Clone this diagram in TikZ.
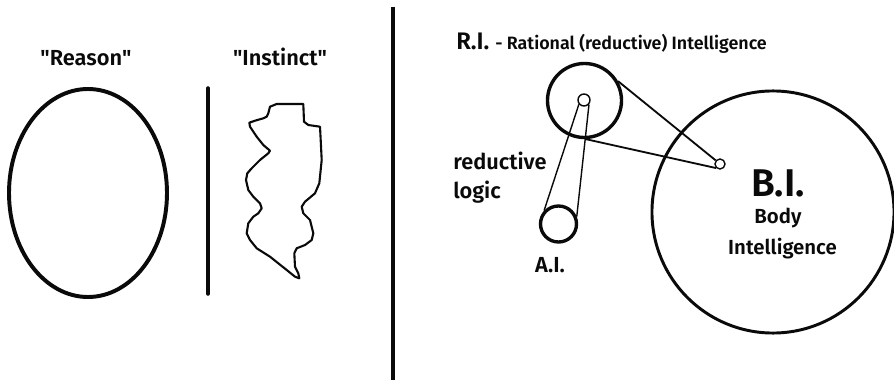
\documentclass[tikz,border=0pt]{standalone}
\usepackage{fontspec}
\setmainfont{Fira Sans}[BoldFont={Fira Sans SemiBold}]
\usepackage{xcolor}
\usepackage{tikz}
\usetikzlibrary{calc,positioning}
\definecolor{inkc}{HTML}{0A0A0A}
\tikzset{
  hv/.style={inkc,line width=2.8pt,line cap=round},
  thn/.style={inkc,line width=1pt},
  md/.style={inkc,line width=1.3pt},
  rnd/.style={circle,draw=inkc,line width=2.4pt,inner sep=0pt},
  dot/.style={circle,draw=inkc,line width=1pt,inner sep=0pt},
  lbl/.style={inner sep=0pt,text=inkc,font=\fontsize{15.5pt}{18pt}\selectfont\bfseries},
  sml/.style={inner sep=0pt,text=inkc,font=\fontsize{12.7pt}{15pt}\selectfont\bfseries}
}
\begin{document}
\begin{tikzpicture}[x=0.025cm,y=-0.025cm]
\useasboundingbox (0,0) rectangle (894,380);
% left half
\node[lbl,anchor=base] (rsnlbl) at (86,66) {\textquotedbl Reason\textquotedbl};
\node[lbl,anchor=base] (inslbl) at (280,66) {\textquotedbl Instinct\textquotedbl};
\draw[inkc,line width=2.8pt] (88,193) ellipse (79 and 104);
\draw[hv,line width=2.5pt] (208,88) -- (208,294);
\draw[inkc,line width=1.5pt,line join=round] plot coordinates {
  (268.3,113.3) (270,106.7) (276.7,104) (303.3,104) (304,121.7) (308.3,125)
  (320,126.7) (320.7,140) (321.7,160) (319.3,183.3) (315,193.3) (305,201.7)
  (301.7,206.7) (303.3,213.3) (310,220) (313.3,233.3) (311.7,240) (305,245)
  (296.7,248.3) (294.3,253.3) (295,266.7) (298.3,273.3) (299.3,278.3) (295,276.7)
  (286.7,270) (270,256.7) (256.7,248.3) (250,240) (246.7,233.3) (248.3,223.3)
  (253.3,216.7) (258.3,213.3) (261.7,208.3) (260,203.3) (253.3,196.7) (248.3,190)
  (246,180) (247.3,173.3) (251.7,168.3) (260,160) (268.3,153.3) (270,150.7)
  (263.3,145) (256.7,136.7) (250,126.7) (249.3,122.7) (255,120.7) (263.3,118.3)
  (266.7,116.7) (268.3,113.3)};
% divider
\draw[inkc,line width=2.9pt] (393,7) -- (393,380);
% right half
\node[anchor=base west,inner sep=0pt,text=inkc] (rilbl) at (456,50)
  {\fontsize{17pt}{19pt}\selectfont\bfseries R.I. \fontsize{12.7pt}{15pt}\selectfont - Rational (reductive) Intelligence};
\node[rnd,minimum size=1.85cm] (ri) at (584.5,100.5) {};
\node[dot,minimum size=0.3cm] (rsm) at (584,100) {};
\node[rnd,minimum size=0.9cm] (ai) at (558.5,224) {};
\node[rnd,line width=2.1pt,minimum size=6.05cm] (bi) at (773,212) {};
\node[dot,minimum size=0.25cm] (bsm) at (720,164) {};
\draw[thn] (rsm.220) -- (ai.137);
\draw[thn] (rsm.-42) -- (ai.22);
\draw[md] (ri.30) -- (bsm.140);
\draw[md] (ri.272) -- (bsm.225);
\node[lbl,anchor=base west] (rdc1) at (453,170) {reductive};
\node[lbl,anchor=base west] (rdc2) at (453,198) {logic};
\node[lbl,anchor=base] (ailbl) at (550,272) {A.I.};
\node[lbl,anchor=base,font=\fontsize{27.5pt}{30pt}\selectfont\bfseries] (bilbl) at (778,197) {B.I.};
\node[lbl,anchor=base,font=\fontsize{14.5pt}{17pt}\selectfont\bfseries] (bdy) at (778,224) {Body};
\node[lbl,anchor=base,font=\fontsize{14.5pt}{17pt}\selectfont\bfseries] (intl) at (782.5,255) {Intelligence};
\end{tikzpicture}
\end{document}
